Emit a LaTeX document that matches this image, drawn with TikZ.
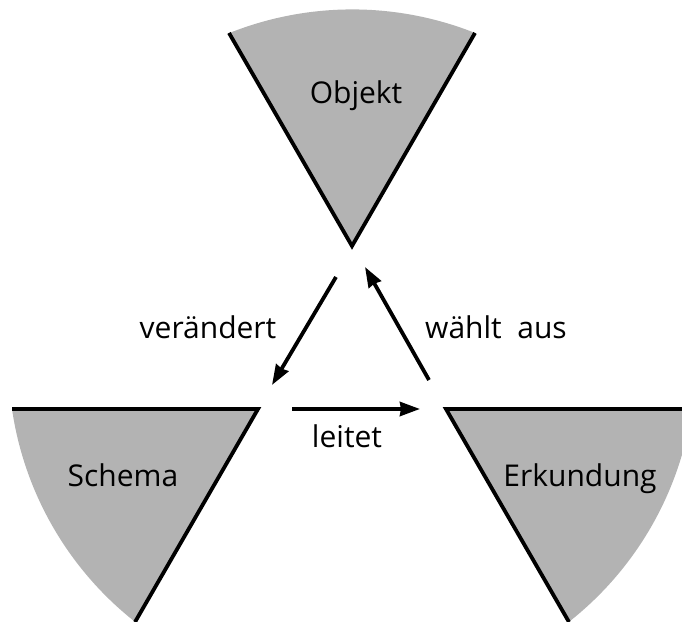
\documentclass[tikz,border=0pt]{standalone}
\usepackage{fontspec}
\setmainfont{Open Sans}
\usetikzlibrary{arrows.meta,calc}
\definecolor{wedgegray}{RGB}{179,179,179}
\begin{document}
\begin{tikzpicture}[x=1pt,y=1pt,
  edge/.style={line width=3.8pt,line join=miter},
  link/.style={line width=3.8pt,-{Stealth[length=20pt,width=14pt,inset=1pt]}},
  label/.style={anchor=base,inner sep=0pt,font=\fontsize{30}{36}\selectfont}]
\useasboundingbox (0,0) rectangle (682,621);
\clip (0,0) rectangle (682,621);

% apexes of the three sectors
\coordinate (ta) at (352,375);
\coordinate (la) at (258,212);
\coordinate (ra) at (446,212);

% top sector (Objekt): straight sides of 246, outer rim flatter than a true sector
\coordinate (tl) at ($(ta)+(120:246)$);
\coordinate (tr) at ($(ta)+(60:246)$);
\fill[wedgegray] (ta) -- (tr) arc[start angle=68.3,end angle=111.7,radius=332] -- cycle;
\draw[edge] (tl) -- (ta) -- (tr);

% left sector (Schema)
\coordinate (lh) at ($(la)+(180:246)$);
\coordinate (ls) at ($(la)+(240:246)$);
\fill[wedgegray] (la) -- (lh) arc[start angle=188.3,end angle=231.7,radius=332] -- cycle;
\draw[edge] (lh) -- (la) -- (ls);

% right sector (Erkundung)
\coordinate (rh) at ($(ra)+(0:246)$);
\coordinate (rs) at ($(ra)+(-60:246)$);
\fill[wedgegray] (ra) -- (rh) arc[start angle=351.7,end angle=308.3,radius=332] -- cycle;
\draw[edge] (rh) -- (ra) -- (rs);

% labels
\node[label] (objekt) at (356,517) {Objekt};
\node[label] (schema) at (123,135) {Schema};
\node[label] (erkundung) at (580,135) {Erkundung};
\node[label] (veraendert) at (208,282) {verändert};
\node[label] (waehlt) at (496,282) {wählt~~aus};
\node[label] (leitet) at (347,173) {leitet};

% arrows between the sectors
\coordinate (v1) at (336,344);
\coordinate (v2) at (272,236);
\coordinate (w1) at (429,241);
\coordinate (w2) at (365,354);
\coordinate (l1) at (292,212);
\coordinate (l2) at (420,212);
\draw[link] (v1) -- (v2);
\draw[link] (w1) -- (w2);
\draw[link] (l1) -- (l2);
\end{tikzpicture}
\end{document}
